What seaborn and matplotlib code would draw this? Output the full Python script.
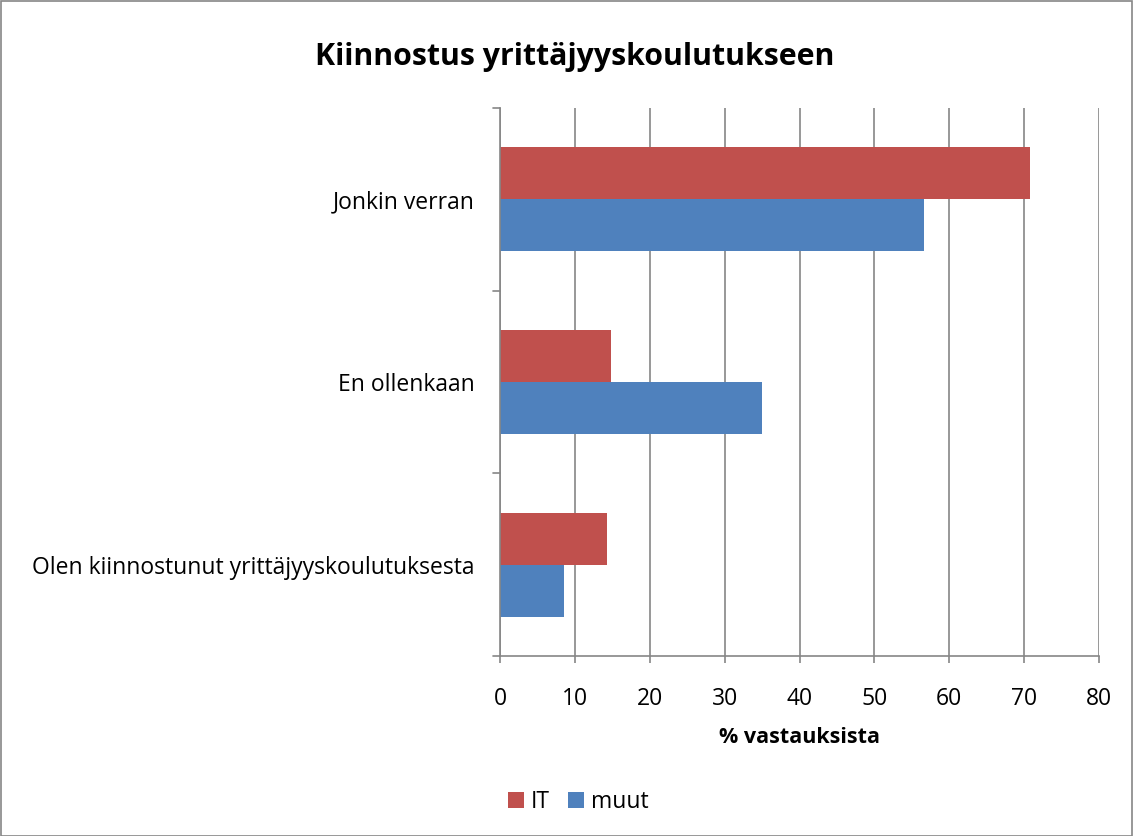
import matplotlib
matplotlib.use("Agg")
import matplotlib.pyplot as plt
import seaborn as sns
import pandas as pd
from matplotlib.patches import Rectangle, Patch

categories = ["Jonkin verran", "En ollenkaan", "Olen kiinnostunut yrittäjyyskoulutuksesta"]
series_names = ["IT", "muut"]
it_values = [70.8, 14.8, 14.3]
muut_values = [56.6, 35.0, 8.6]
x_ticks = [0, 10, 20, 30, 40, 50, 60, 70, 80]
title = "Kiinnostus yrittäjyyskoulutukseen"
x_label = "% vastauksista"
colors = ["#C0504D", "#4F81BD"]

df = pd.DataFrame({
    "category": categories * 2,
    "series": [series_names[0]] * 3 + [series_names[1]] * 3,
    "value": it_values + muut_values,
})

sns.set_theme(style="white")
plt.rcParams['font.family'] = ['Open Sans', 'DejaVu Sans']
plt.rcParams['text.color'] = 'black'
plt.rcParams['xtick.color'] = 'black'
plt.rcParams['ytick.color'] = 'black'
plt.rcParams['axes.labelcolor'] = 'black'

fig = plt.figure(figsize=(11.34, 8.36), dpi=100)
ax = fig.add_axes([500/1134, 1 - 656/836, 599/1134, 548/836])

sns.barplot(data=df, x="value", y="category", hue="series", order=categories,
            hue_order=series_names, palette=colors, orient="h", width=0.57,
            saturation=1, ax=ax, legend=False, linewidth=0)

ax.set_xlim(0, 80)
ax.set_ylim(2.5, -0.5)
ax.set_xticks(x_ticks)
ax.set_xticklabels([str(t) for t in x_ticks], fontsize=16.5)
ax.set_yticks([0, 1, 2])
ax.set_yticklabels(categories, fontsize=16.5)
ax.tick_params(axis="y", length=0, pad=18)
ax.tick_params(axis="x", length=5, width=1.2, color="#868686", labelcolor="black", pad=17, bottom=True)
ax.set_xlabel(x_label, fontsize=15.5, fontweight="bold", labelpad=12)
ax.set_ylabel("")
ax.grid(axis="x", color="#868686", linewidth=1.2)
ax.set_axisbelow(True)
for s in ["top", "right"]:
    ax.spines[s].set_visible(False)
for s in ["left", "bottom"]:
    ax.spines[s].set_color("#868686")
    ax.spines[s].set_linewidth(1.2)

# category boundary ticks on the y axis
for yb in [-0.5, 0.5, 1.5, 2.5]:
    ax.plot([-0.012, 0], [yb, yb], transform=ax.get_yaxis_transform(),
            color="#868686", linewidth=1.2, clip_on=False)

fig.text(575/1134, 1 - 57/836, title, fontsize=21.8, fontweight="bold",
         ha="center", va="center")

handles = [Patch(facecolor=c, edgecolor="none") for c in colors]
fig.legend(handles, series_names, loc="center", bbox_to_anchor=(578/1134, 1 - 802/836),
           ncol=2, frameon=False, fontsize=16.5, handlelength=0.7, handleheight=0.7,
           handletextpad=0.3, columnspacing=0.8)

fig.patches.append(Rectangle((0.0005, 0.0005), 0.998, 0.998, transform=fig.transFigure,
                             fill=False, edgecolor="#868686", linewidth=1.2))

fig.savefig("out.png", dpi=100)
